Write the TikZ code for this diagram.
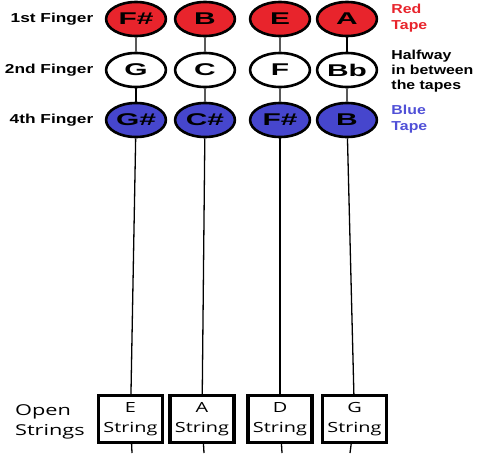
\documentclass[tikz,border=0pt]{standalone}
\usepackage{fontspec}
\setmainfont{Liberation Sans}
\newfontfamily\stringfont{Open Sans}
\usetikzlibrary{positioning}
\definecolor{tapered}{RGB}{232,36,44}
\definecolor{tapeblue}{RGB}{70,70,205}
\definecolor{tapetext}{RGB}{80,80,215}
\begin{document}
\begin{tikzpicture}[x=1pt, y=-1pt, note/.style={circle, draw=black, line width=2.6pt, minimum size=34pt, inner sep=0pt, xscale=1.76, font=\fontsize{17}{17}\selectfont\bfseries}, open/.style={draw=black, line width=3.4pt, fill=white, minimum width=45pt, minimum height=47pt, inner sep=0pt, align=center, xscale=1.42, font=\stringfont\fontsize{14}{20}\selectfont}, lbl/.style={font=\fontsize{13}{15}\selectfont\bfseries, xscale=1.33, align=left}, side/.style={font=\fontsize{13}{15}\selectfont\bfseries, xscale=1.22, align=left, anchor=west, inner sep=1pt}, wire/.style={black, line width=1.3pt}]
\useasboundingbox (0,0) rectangle (481,453);
\node[note, fill=tapered] (a1) at (136,19) {F\#}; \node[note, fill=tapered] (b1) at (205,19) {B}; \node[note, fill=tapered] (c1) at (280,19) {E}; \node[note, fill=tapered] (d1) at (347,19) {A};
\node[note, fill=white] (a2) at (136,70) {G}; \node[note, fill=white] (b2) at (205,70) {C}; \node[note, fill=white] (c2) at (280,70) {F}; \node[note, fill=white] (d2) at (347,70) {Bb};
\node[note, fill=tapeblue] (a3) at (136,120) {G\#}; \node[note, fill=tapeblue] (b3) at (205,120) {C\#}; \node[note, fill=tapeblue] (c3) at (280,120) {F\#}; \node[note, fill=tapeblue] (d3) at (347,120) {B};
\node[open] (sa) at (130.5,419) {E\\String}; \node[open] (sb) at (202,419) {A\\String}; \node[open] (sc) at (280,419) {D\\String}; \node[open] (sd) at (354.5,419) {G\\String};
\coordinate (ea) at (132,453); \coordinate (eb) at (204,453); \coordinate (ec) at (282,453); \coordinate (ed) at (350,453);
\draw[wire] (a1) -- (a2); \draw[wire] (a2) -- (a3); \draw[wire] (a3) -- (sa); \draw[wire] (sa) -- (ea);
\draw[wire] (b1) -- (b2); \draw[wire] (b2) -- (b3); \draw[wire] (b3) -- (sb); \draw[wire] (sb) -- (eb);
\draw[wire] (c1) -- (c2); \draw[wire] (c2) -- (c3); \draw[wire] (c3) -- (sc); \draw[wire] (sc) -- (ec);
\draw[wire] (d1) -- (d2); \draw[wire] (d2) -- (d3); \draw[wire] (d3) -- (sd); \draw[wire] (sd) -- (ed);
\node[lbl, anchor=east] (first) at (98,19) {1st Finger}; \node[lbl, anchor=east] (second) at (98,70) {2nd Finger}; \node[lbl, anchor=east] (fourth) at (98,120) {4th Finger};
\node[side, text=tapered, font=\fontsize{13}{16}\selectfont\bfseries] (redtape) at (390,18) {Red\\Tape}; \node[side] (halfway) at (390,71) {Halfway\\in between\\the tapes}; \node[side, text=tapetext, font=\fontsize{13}{16}\selectfont\bfseries] (bluetape) at (390,119) {Blue\\Tape};
\node[anchor=west, align=left, xscale=1.45, font=\stringfont\fontsize{15}{20}\selectfont] (openlbl) at (10,422) {Open\\Strings};
\end{tikzpicture}
\end{document}
